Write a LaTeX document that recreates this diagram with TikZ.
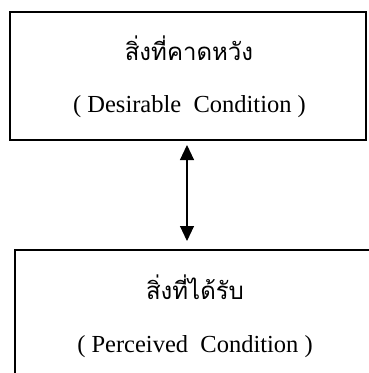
\documentclass[tikz,border=0pt]{standalone}
\usepackage{fontspec}
\setmainfont{Liberation Serif}
\newfontfamily\thaifont[Script=Thai]{Loma}
\usetikzlibrary{arrows.meta}
\tikzset{
  box/.style={draw=black, line width=1.6pt, fill=white, inner sep=0pt},
  thaitext/.style={font=\thaifont\fontsize{24pt}{28pt}\selectfont, inner sep=0pt, anchor=base},
  engtext/.style={font=\fontsize{24.5pt}{28pt}\selectfont, inner sep=0pt, anchor=base},
  link/.style={line width=1.1pt, {Triangle[width=14pt,length=15pt]}-{Triangle[width=14pt,length=15pt]}}
}
\begin{document}
\begin{tikzpicture}[x=1pt,y=-1pt]
\useasboundingbox (0,0) rectangle (368,373);
\fill[white] (0,0) rectangle (368,373);
\node[box, minimum width=356pt, minimum height=128pt] (want) at (188,76) {};
\node[box, minimum width=375pt, minimum height=160pt] (got) at (202.5,330) {};
\node[thaitext] (wantth) at (189,60) {สิ่งที่คาดหวัง};
\node[engtext] (wanten) at (189.5,112) {( Desirable\ \ Condition )};
\node[thaitext] (gotth) at (195,299) {สิ่งที่ได้รับ};
\node[engtext] (goten) at (195,352) {( Perceived\ \ Condition )};
\coordinate (a1) at (187,145);
\coordinate (a2) at (187,241);
\draw[link] (a1) -- (a2);
\end{tikzpicture}
\end{document}
